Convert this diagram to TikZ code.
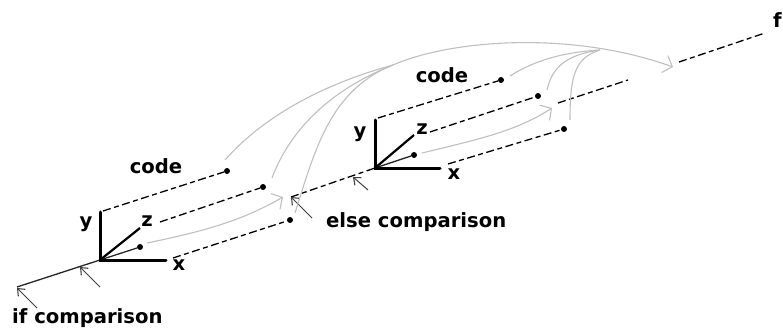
\documentclass[tikz,border=0pt]{standalone}
\usepackage{fontspec}
\setmainfont{DejaVu Sans}
\usetikzlibrary{arrows.meta}
\tikzset{
  x=1pt,y=-1pt,
  lbl/.style={font=\fontsize{19.6}{22}\selectfont\bfseries,inner sep=0pt,text=black},
  axisl/.style={line width=3pt,line cap=round},
  dashl/.style={line width=1.3pt,dash pattern=on 8pt off 3.5pt on 5pt off 3.5pt},
  solidl/.style={line width=1.3pt,black!85},
  gc/.style={line width=1.1pt,black!25},
  pointer/.style={line width=1pt,black!75,-{Straight Barb[length=6pt,width=10pt,line width=1.1pt]}},
  gtip/.style={-{Straight Barb[length=8pt,width=18pt,line width=1.1pt]}},
  dotn/.style={circle,fill=black,inner sep=0pt,minimum size=6pt}
}
\begin{document}
\begin{tikzpicture}
\useasboundingbox (0,0) rectangle (783,331);
% coordinates
\coordinate (ifc) at (17,287);
\coordinate (O1) at (100,260);
\coordinate (elc) at (291,197);
\coordinate (O2) at (375,168);
\coordinate (s1) at (103,211);
\coordinate (s2) at (160,222);
\coordinate (s3) at (173,258);
\coordinate (t1) at (378,118);
\coordinate (t2) at (430,132);
\coordinate (t3) at (448,164);
\coordinate (m1) at (558,103);
\coordinate (m2) at (628,80);
\coordinate (m3) at (679,62);
\coordinate (m4) at (765,33);
\coordinate (ap1) at (100,287);
\coordinate (ap2) at (80,267);
\coordinate (bp1) at (37,308);
\coordinate (bp2) at (17,288);
\coordinate (cp1) at (312,218);
\coordinate (cp2) at (291,197);
\coordinate (dp1) at (368,190);
\coordinate (dp2) at (353,177);
\coordinate (y1) at (100,212);
\coordinate (x1) at (166,260);
\coordinate (z1) at (140,228);
\coordinate (y2) at (375,120);
\coordinate (x2) at (440,168);
\coordinate (z2) at (414,135);
% dots
\node[dotn] (d1) at (227,171) {};
\node[dotn] (d2) at (263,187) {};
\node[dotn] (d3) at (290,220) {};
\node[dotn] (d4) at (140,247) {};
\node[dotn] (e1) at (501,80) {};
\node[dotn] (e2) at (538,96) {};
\node[dotn] (e3) at (564,129) {};
\node[dotn] (e4) at (414,155) {};
% labels
\node[lbl] (lcode1) at (156,166) {code};
\node[lbl] (lcode2) at (442,75) {code};
\node[lbl] (ly1) at (86,224) {y};
\node[lbl] (lx1) at (179,265) {x};
\node[lbl] (lz1) at (147,221) {z};
\node[lbl] (ly2) at (360,134) {y};
\node[lbl] (lx2) at (454,174) {x};
\node[lbl] (lz2) at (422,129) {z};
\node[lbl,anchor=west] (lelse) at (326,222) {else comparison};
\node[lbl,anchor=west] (lif) at (12,318) {if comparison};
\node[lbl,anchor=west] (lf) at (773,20) {f};
% main axis
\draw[solidl] (ifc) -- (O1);
\draw[solidl] (O1) -- (d4);
\draw[dashl] (elc) -- (O2);
\draw[solidl] (O2) -- (e4);
\draw[dashl] (m1) -- (m2);
\draw[dashl] (m3) -- (m4);
% axes
\draw[axisl] (y1) -- (O1) -- (x1);
\draw[line width=2.2pt] (O1) -- (z1);
\draw[axisl] (y2) -- (O2) -- (x2);
\draw[line width=2.2pt] (O2) -- (z2);
% dashed
\draw[dashl] (s1) -- (d1);
\draw[dashl] (s2) -- (d2);
\draw[dashl] (s3) -- (d3);
\draw[dashl] (t1) -- (e1);
\draw[dashl] (t2) -- (e2);
\draw[dashl] (t3) -- (e3);
% pointers
\draw[pointer] (ap1) -- (ap2);
\draw[pointer] (bp1) -- (bp2);
\draw[pointer] (cp1) -- (cp2);
\draw[pointer] (dp1) -- (dp2);
% gray arrows
\coordinate (g1) at (147,243);
\coordinate (g2) at (283,197);
\coordinate (g3) at (422,153);
\coordinate (g4) at (552,108);
\draw[gc,gtip] (g1) .. controls (200,232) and (240,222) .. (g2);
\draw[gc,gtip] (g3) .. controls (475,140) and (515,132) .. (g4);
% big curves
\coordinate (a1) at (225,160);
\coordinate (b1) at (272,178);
\coordinate (c1) at (295,213);
\coordinate (top) at (393,65);
\coordinate (end) at (673,67);
\coordinate (p1) at (510,76);
\coordinate (p2) at (547,90);
\coordinate (p3) at (570,120);
\coordinate (hub) at (600,50);
\draw[gc] (a1) .. controls (262,118) and (320,85) .. (top);
\draw[gc] (b1) .. controls (290,130) and (330,90) .. (top);
\draw[gc] (c1) .. controls (315,150) and (330,90) .. (top);
\draw[gc,gtip] (top) .. controls (450,40) and (570,30) .. (end);
\draw[gc] (p1) .. controls (535,60) and (565,52) .. (hub);
\draw[gc] (p2) .. controls (552,68) and (565,55) .. (hub);
\draw[gc] (p3) .. controls (570,75) and (575,58) .. (hub);
\end{tikzpicture}
\end{document}
